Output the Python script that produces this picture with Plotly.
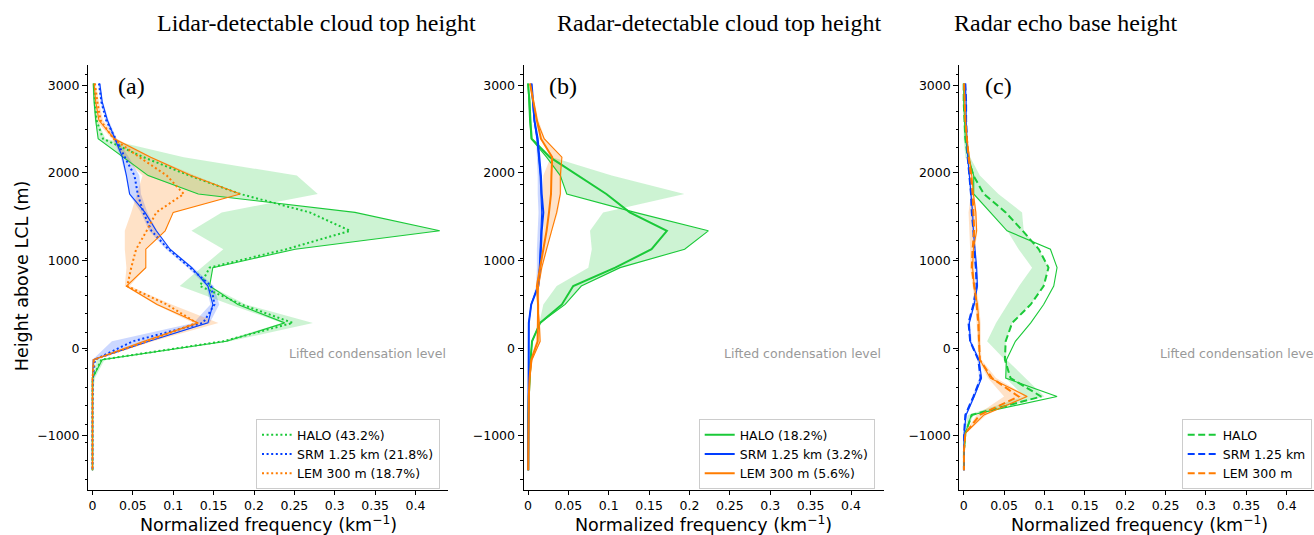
import plotly.graph_objects as go

# ---------------- data ----------------
H = [3020, 2810, 2600, 2390, 2180, 1970, 1760, 1550, 1340, 1130, 920, 710,
     500, 290, 80, -130, -340, -550, -760, -970, -1180, -1390]

# Panel (a): lidar-detectable cloud top height
a_halo_main = [0.002, 0.003, 0.005, 0.013, 0.063, 0.120, 0.183, 0.269, 0.319, 0.240, 0.145, 0.133,
               0.1845, 0.248, 0.162, 0.011, 0.0, 0.0, 0.0, 0.0, 0.0, 0.0]
a_halo_alt = [0.001, 0.002, 0.004, 0.007, 0.038, 0.069, 0.131, 0.325, 0.430, 0.251, 0.149, 0.145,
              0.180, 0.238, 0.166, 0.012, 0.0, 0.0, 0.0, 0.0, 0.0, 0.0]
a_halo_e1 = [0.000, 0.001, 0.003, 0.007, 0.037, 0.067, 0.131, 0.325, 0.430, 0.251, 0.149, 0.145,
             0.190, 0.273, 0.170, 0.015, 0.003, 0.0, 0.0, 0.0, 0.0, 0.0]
a_halo_e2 = [0.002, 0.003, 0.006, 0.016, 0.113, 0.253, 0.279, 0.160, 0.1226, 0.162, 0.135, 0.108,
             0.170, 0.235, 0.160, 0.005, 0.0, 0.0, 0.0, 0.0, 0.0, 0.0]

a_srm_main = [0.008, 0.011, 0.017, 0.028, 0.040, 0.052, 0.056, 0.063, 0.073, 0.094, 0.120, 0.147,
              0.151, 0.137, 0.050, 0.003, 0.0005, 0.0, 0.0, 0.0, 0.0, 0.0]
a_srm_alt = [0.009, 0.012, 0.0185, 0.028, 0.037, 0.042, 0.046, 0.065, 0.079, 0.096, 0.123, 0.143,
             0.149, 0.143, 0.070, 0.001, 0.0, 0.0, 0.0, 0.0, 0.0, 0.0]
a_srm_lo = [0.007, 0.010, 0.016, 0.026, 0.035, 0.041, 0.045, 0.060, 0.070, 0.091, 0.118, 0.141,
            0.146, 0.125, 0.024, 0.0, 0.0, 0.0, 0.0, 0.0, 0.0, 0.0]
a_srm_hi = [0.010, 0.013, 0.020, 0.030, 0.045, 0.058, 0.060, 0.068, 0.080, 0.097, 0.125, 0.150,
            0.157, 0.145, 0.070, 0.004, 0.0, 0.0, 0.0, 0.0, 0.0, 0.0]

a_lem_main = [0.003, 0.006, 0.010, 0.026, 0.058, 0.092, 0.113, 0.079, 0.067, 0.054, 0.048, 0.043,
              0.092, 0.129, 0.068, 0.002, 0.0, 0.0, 0.0, 0.0, 0.0, 0.0]
a_lem_alt = [0.002, 0.004, 0.008, 0.027, 0.072, 0.122, 0.183, 0.100, 0.090, 0.066, 0.066, 0.042,
             0.080, 0.131, 0.064, 0.001, 0.0, 0.0, 0.0, 0.0, 0.0, 0.0]
a_lem_lo = [0.000, 0.002, 0.004, 0.024, 0.038, 0.062, 0.055, 0.048, 0.040, 0.040, 0.042, 0.040,
            0.078, 0.125, 0.060, 0.0, 0.0, 0.0, 0.0, 0.0, 0.0, 0.0]
a_lem_hi = [0.004, 0.008, 0.013, 0.030, 0.074, 0.127, 0.183, 0.100, 0.090, 0.066, 0.066, 0.046,
            0.098, 0.156, 0.075, 0.003, 0.0, 0.0, 0.0, 0.0, 0.0, 0.0]

# Panel (b): radar-detectable cloud top height
b_halo_main = [0.000, 0.002, 0.003, 0.0045, 0.027, 0.062, 0.097, 0.126, 0.172, 0.153, 0.108, 0.056,
               0.042, 0.015, 0.005, 0.0033, 0.002, 0.001, 0.0005, 0.0005, 0.0003, 0.0003]
b_halo_alt = [0.000, 0.001, 0.002, 0.004, 0.023, 0.040, 0.048, 0.1325, 0.2233, 0.194, 0.114, 0.066,
              0.046, 0.015, 0.005, 0.003, 0.002, 0.001, 0.0005, 0.0005, 0.0003, 0.0003]
b_halo_e1 = [0.000, 0.001, 0.002, 0.004, 0.023, 0.040, 0.048, 0.1325, 0.2233, 0.194, 0.114, 0.066,
             0.046, 0.016, 0.006, 0.004, 0.003, 0.002, 0.001, 0.001, 0.0005, 0.0005]
b_halo_e2 = [0.001, 0.003, 0.004, 0.006, 0.030, 0.1036, 0.1937, 0.093, 0.0768, 0.079, 0.0747, 0.0355,
             0.019, 0.014, 0.004, 0.002, 0.001, 0.001, 0.0003, 0.0003, 0.0003, 0.0003]

b_srm_main = [0.0045, 0.006, 0.008, 0.012, 0.014, 0.016, 0.017, 0.019, 0.017, 0.016, 0.015, 0.0128,
              0.004, 0.001, 0.001, 0.001, 0.0008, 0.0006, 0.0005, 0.0004, 0.0003, 0.0003]
b_srm_alt = [0.004, 0.0055, 0.0075, 0.011, 0.013, 0.015, 0.016, 0.017, 0.016, 0.015, 0.014, 0.012,
             0.004, 0.001, 0.001, 0.001, 0.0008, 0.0006, 0.0005, 0.0004, 0.0003, 0.0003]
b_srm_lo = [0.004, 0.005, 0.007, 0.010, 0.011, 0.012, 0.012, 0.013, 0.012, 0.011, 0.011, 0.010,
            0.003, 0.0008, 0.0008, 0.0008, 0.0006, 0.0005, 0.0004, 0.0003, 0.0002, 0.0002]
b_srm_hi = [0.005, 0.0065, 0.009, 0.012, 0.014, 0.016, 0.017, 0.019, 0.017, 0.016, 0.015, 0.013,
            0.005, 0.0015, 0.0012, 0.0012, 0.001, 0.0008, 0.0006, 0.0005, 0.0004, 0.0004]

b_lem_main = [0.0025, 0.0066, 0.011, 0.016, 0.030, 0.029, 0.0285, 0.026, 0.023, 0.019, 0.015, 0.011,
              0.0125, 0.012, 0.012, 0.004, 0.002, 0.001, 0.0007, 0.0005, 0.0004, 0.0003]
b_lem_alt = [0.0025, 0.0066, 0.011, 0.020, 0.042, 0.040, 0.040, 0.0355, 0.029, 0.023, 0.017, 0.013,
             0.012, 0.014, 0.015, 0.005, 0.002, 0.001, 0.0007, 0.0005, 0.0004, 0.0003]
b_lem_lo = [0.002, 0.005, 0.009, 0.016, 0.028, 0.019, 0.018, 0.020, 0.019, 0.016, 0.013, 0.010,
            0.011, 0.011, 0.010, 0.003, 0.0015, 0.0008, 0.0005, 0.0004, 0.0003, 0.0002]
b_lem_hi = [0.004, 0.008, 0.013, 0.021, 0.042, 0.042, 0.041, 0.037, 0.030, 0.024, 0.018, 0.014,
            0.014, 0.015, 0.016, 0.005, 0.0025, 0.0012, 0.0009, 0.0006, 0.0005, 0.0004]

# Panel (c): radar echo base height
c_halo_main = [0.0, 0.0, 0.001, 0.002, 0.005, 0.012, 0.025, 0.052, 0.073, 0.093, 0.105, 0.099,
               0.083, 0.060, 0.052, 0.051, 0.058, 0.096, 0.010, 0.002, 0.0003, 0.0003]
c_halo_alt = [0.0, 0.0, 0.001, 0.002, 0.006, 0.0124, 0.0124, 0.033, 0.0537, 0.1074, 0.1156, 0.1115,
              0.099, 0.083, 0.064, 0.053, 0.052, 0.1156, 0.0095, 0.002, 0.0003, 0.0003]
c_halo_e1 = [0.0, 0.0, 0.0, 0.0, 0.002, 0.012, 0.0124, 0.033, 0.054, 0.068, 0.0847, 0.0686,
             0.054, 0.040, 0.029, 0.051, 0.052, 0.075, 0.005, 0.001, 0.0, 0.0]
c_halo_e2 = [0.001, 0.001, 0.002, 0.003, 0.008, 0.020, 0.043, 0.0723, 0.0743, 0.093, 0.105, 0.099,
             0.083, 0.060, 0.052, 0.053, 0.0764, 0.100, 0.012, 0.003, 0.0005, 0.0005]

c_srm_main = [0.002, 0.003, 0.003, 0.004, 0.005, 0.007, 0.009, 0.010, 0.012, 0.013, 0.015, 0.016,
              0.012, 0.006, 0.008, 0.018, 0.021, 0.012, 0.002, 0.0005, 0.0003, 0.0003]
c_srm_alt = [0.002, 0.003, 0.003, 0.004, 0.005, 0.007, 0.009, 0.011, 0.012, 0.014, 0.016, 0.017,
             0.013, 0.007, 0.008, 0.019, 0.022, 0.013, 0.003, 0.0005, 0.0003, 0.0003]
c_srm_lo = [0.001, 0.002, 0.002, 0.003, 0.004, 0.006, 0.008, 0.009, 0.011, 0.012, 0.014, 0.015,
            0.011, 0.005, 0.007, 0.017, 0.019, 0.011, 0.0015, 0.0, 0.0, 0.0]
c_srm_hi = [0.003, 0.004, 0.004, 0.005, 0.006, 0.008, 0.010, 0.012, 0.013, 0.015, 0.017, 0.018,
            0.014, 0.008, 0.010, 0.020, 0.023, 0.014, 0.004, 0.001, 0.0005, 0.0005]

c_lem_main = [0.0005, 0.001, 0.002, 0.004, 0.006, 0.009, 0.011, 0.012, 0.013, 0.011, 0.010, 0.013,
              0.016, 0.018, 0.019, 0.020, 0.035, 0.068, 0.020, 0.002, 0.0003, 0.0003]
c_lem_alt = [0.0005, 0.001, 0.002, 0.004, 0.007, 0.010, 0.012, 0.015, 0.016, 0.012, 0.011, 0.013,
             0.017, 0.019, 0.019, 0.020, 0.033, 0.0785, 0.025, 0.002, 0.0003, 0.0003]
c_lem_lo = [0.0, 0.0005, 0.001, 0.003, 0.005, 0.008, 0.009, 0.006, 0.007, 0.008, 0.008, 0.011,
            0.014, 0.016, 0.017, 0.018, 0.030, 0.050, 0.016, 0.001, 0.0, 0.0]
c_lem_hi = [0.001, 0.002, 0.003, 0.005, 0.008, 0.011, 0.013, 0.016, 0.017, 0.014, 0.013, 0.015,
            0.019, 0.021, 0.021, 0.022, 0.040, 0.080, 0.028, 0.003, 0.0005, 0.0005]

titles = ["Lidar-detectable cloud top height", "Radar-detectable cloud top height",
          "Radar echo base height"]
panel_labels = ["(a)", "(b)", "(c)"]
names_a = ["HALO (43.2%)", "SRM 1.25 km (21.8%)", "LEM 300 m (18.7%)"]
names_b = ["HALO (18.2%)", "SRM 1.25 km (3.2%)", "LEM 300 m (5.6%)"]
names_c = ["HALO", "SRM 1.25 km", "LEM 300 m"]
x_tick_vals = [0, 0.05, 0.1, 0.15, 0.2, 0.25, 0.3, 0.35, 0.4]
x_tick_text = ["0", "0.05", "0.1", "0.15", "0.2", "0.25", "0.3", "0.35", "0.4"]
y_tick_vals = [-1000, 0, 1000, 2000, 3000]
y_tick_text = ["\u22121000", "0", "1000", "2000", "3000"]

# ---------------- styling ----------------
W, HT = 1314, 535
GREEN, BLUE, ORANGE = "#1ac938", "#023eff", "#ff7c00"
FILL = {GREEN: "rgba(26,201,56,0.22)", BLUE: "rgba(2,62,255,0.2)", ORANGE: "rgba(255,124,0,0.22)"}
SANS = "DejaVu Sans"
SERIF = "Liberation Serif"

def px(x):
    return x / W

def py(y):
    return 1 - y / HT

SCALE = 807.5      # px per unit of normalized frequency
ZERO_OFF = 4.5     # px between left spine and x = 0
AX_W = 360
left_px = [88.0, 523.5, 959.2]
top_px, bot_px = 65.0, 490.0
y_range = [-1616, 3231]

fig = go.Figure()

panels = [
    dict(halo=(a_halo_main, a_halo_alt, a_halo_e1, a_halo_e2),
         srm=(a_srm_main, a_srm_alt, a_srm_lo, a_srm_hi),
         lem=(a_lem_main, a_lem_alt, a_lem_lo, a_lem_hi),
         names=names_a, dash="2px,2.6px", mainw=2.0, legend="legend"),
    dict(halo=(b_halo_main, b_halo_alt, b_halo_e1, b_halo_e2),
         srm=(b_srm_main, b_srm_alt, b_srm_lo, b_srm_hi),
         lem=(b_lem_main, b_lem_alt, b_lem_lo, b_lem_hi),
         names=names_b, dash="solid", mainw=2.0, legend="legend2"),
    dict(halo=(c_halo_main, c_halo_alt, c_halo_e1, c_halo_e2),
         srm=(c_srm_main, c_srm_alt, c_srm_lo, c_srm_hi),
         lem=(c_lem_main, c_lem_alt, c_lem_lo, c_lem_hi),
         names=names_c, dash="7px,3.5px", mainw=2.0, legend="legend3"),
]

for i, p in enumerate(panels):
    xa = "x" if i == 0 else f"x{i+1}"
    ya = "y" if i == 0 else f"y{i+1}"
    series = [(p["halo"], GREEN), (p["srm"], BLUE), (p["lem"], ORANGE)]
    # bands
    for (main, alt, e1, e2), col in series:
        fig.add_trace(go.Scatter(
            x=list(e1) + list(e2)[::-1], y=H + H[::-1], xaxis=xa, yaxis=ya,
            mode="lines", fill="toself", fillcolor=FILL[col], line=dict(width=0),
            hoverinfo="skip", showlegend=False))
    # lines
    for k, ((main, alt, e1, e2), col) in enumerate(series):
        fig.add_trace(go.Scatter(
            x=alt, y=H, xaxis=xa, yaxis=ya, mode="lines",
            line=dict(color=col, width=1.1), showlegend=False, hoverinfo="skip"))
        fig.add_trace(go.Scatter(
            x=main, y=H, xaxis=xa, yaxis=ya, mode="lines", name=p["names"][k],
            line=dict(color=col, width=p["mainw"], dash=p["dash"]),
            showlegend=True, legend=p["legend"]))

axis_common = dict(showline=True, linecolor="black", linewidth=1, ticks="outside",
                   tickcolor="black", tickwidth=1, showgrid=False, zeroline=False,
                   mirror=False, automargin=False,
                   tickfont=dict(family=SANS, size=12.5, color="black"))

layout = dict(width=W, height=HT, margin=dict(l=0, r=0, t=0, b=0),
              paper_bgcolor="white", plot_bgcolor="rgba(0,0,0,0)", template="none",
              showlegend=True)

for i in range(3):
    sfx = "" if i == 0 else str(i + 1)
    l = left_px[i]
    r = min(l + AX_W, W)
    xr = [-ZERO_OFF / SCALE, (r - l - ZERO_OFF) / SCALE]
    layout["xaxis" + sfx] = dict(axis_common, domain=[px(l), px(r)], range=xr,
                                 anchor="y" + sfx, tickmode="array",
                                 tickvals=x_tick_vals, ticktext=x_tick_text, ticklen=4)
    layout["yaxis" + sfx] = dict(axis_common, domain=[py(bot_px), py(top_px)], range=y_range,
                                 anchor="x" + sfx, tickmode="array",
                                 tickvals=y_tick_vals, ticktext=y_tick_text, ticklen=5,
                                 minor=dict(tickmode="linear", tick0=-1495, dtick=210,
                                            ticks="outside", ticklen=2.5, tickwidth=1,
                                            tickcolor="black", showgrid=False))

leg_common = dict(xanchor="left", yanchor="top", bgcolor="rgba(255,255,255,0.8)",
                  bordercolor="#cccccc", borderwidth=1,
                  font=dict(family=SANS, size=12.5, color="black"),
                  tracegroupgap=0)
leg_left = [256.0, 698.7, 1181.7]
leg_top = 419.0
layout["legend"] = dict(leg_common, x=px(leg_left[0]), y=py(leg_top))
layout["legend2"] = dict(leg_common, x=px(leg_left[1]), y=py(leg_top))
layout["legend3"] = dict(leg_common, x=px(leg_left[2]), y=py(leg_top))

fig.update_layout(**layout)

title_cx = [316.5, 718.5, 1065.5]
label_cx = [131.0, 563.0, 998.0]
for i in range(3):
    l = left_px[i]
    fig.add_annotation(text=titles[i], x=px(title_cx[i]), y=py(23), xref="paper", yref="paper",
                       xanchor="center", yanchor="middle", showarrow=False,
                       font=dict(family=SERIF, size=24, color="black"))
    fig.add_annotation(text=panel_labels[i], x=px(label_cx[i]), y=py(86), xref="paper", yref="paper",
                       xanchor="center", yanchor="middle", showarrow=False,
                       font=dict(family=SERIF, size=24, color="black"))
    fig.add_annotation(text="Normalized frequency (km<sup>\u22121</sup>)", x=px(l + AX_W / 2), y=py(523.5),
                       xref="paper", yref="paper", xanchor="center", yanchor="middle",
                       showarrow=False, font=dict(family=SANS, size=17.5, color="black"))
    fig.add_annotation(text="Lifted condensation level", x=px(l + AX_W), y=py(353.5),
                       xref="paper", yref="paper", xanchor="right", yanchor="middle",
                       showarrow=False, font=dict(family=SANS, size=12.5, color="#999999"))

fig.add_annotation(text="Height above LCL (m)", x=px(21.7), y=py(275.5), xref="paper", yref="paper",
                   xanchor="center", yanchor="middle", textangle=-90, showarrow=False,
                   font=dict(family=SANS, size=17.5, color="black"))

fig.write_html("out.html")
